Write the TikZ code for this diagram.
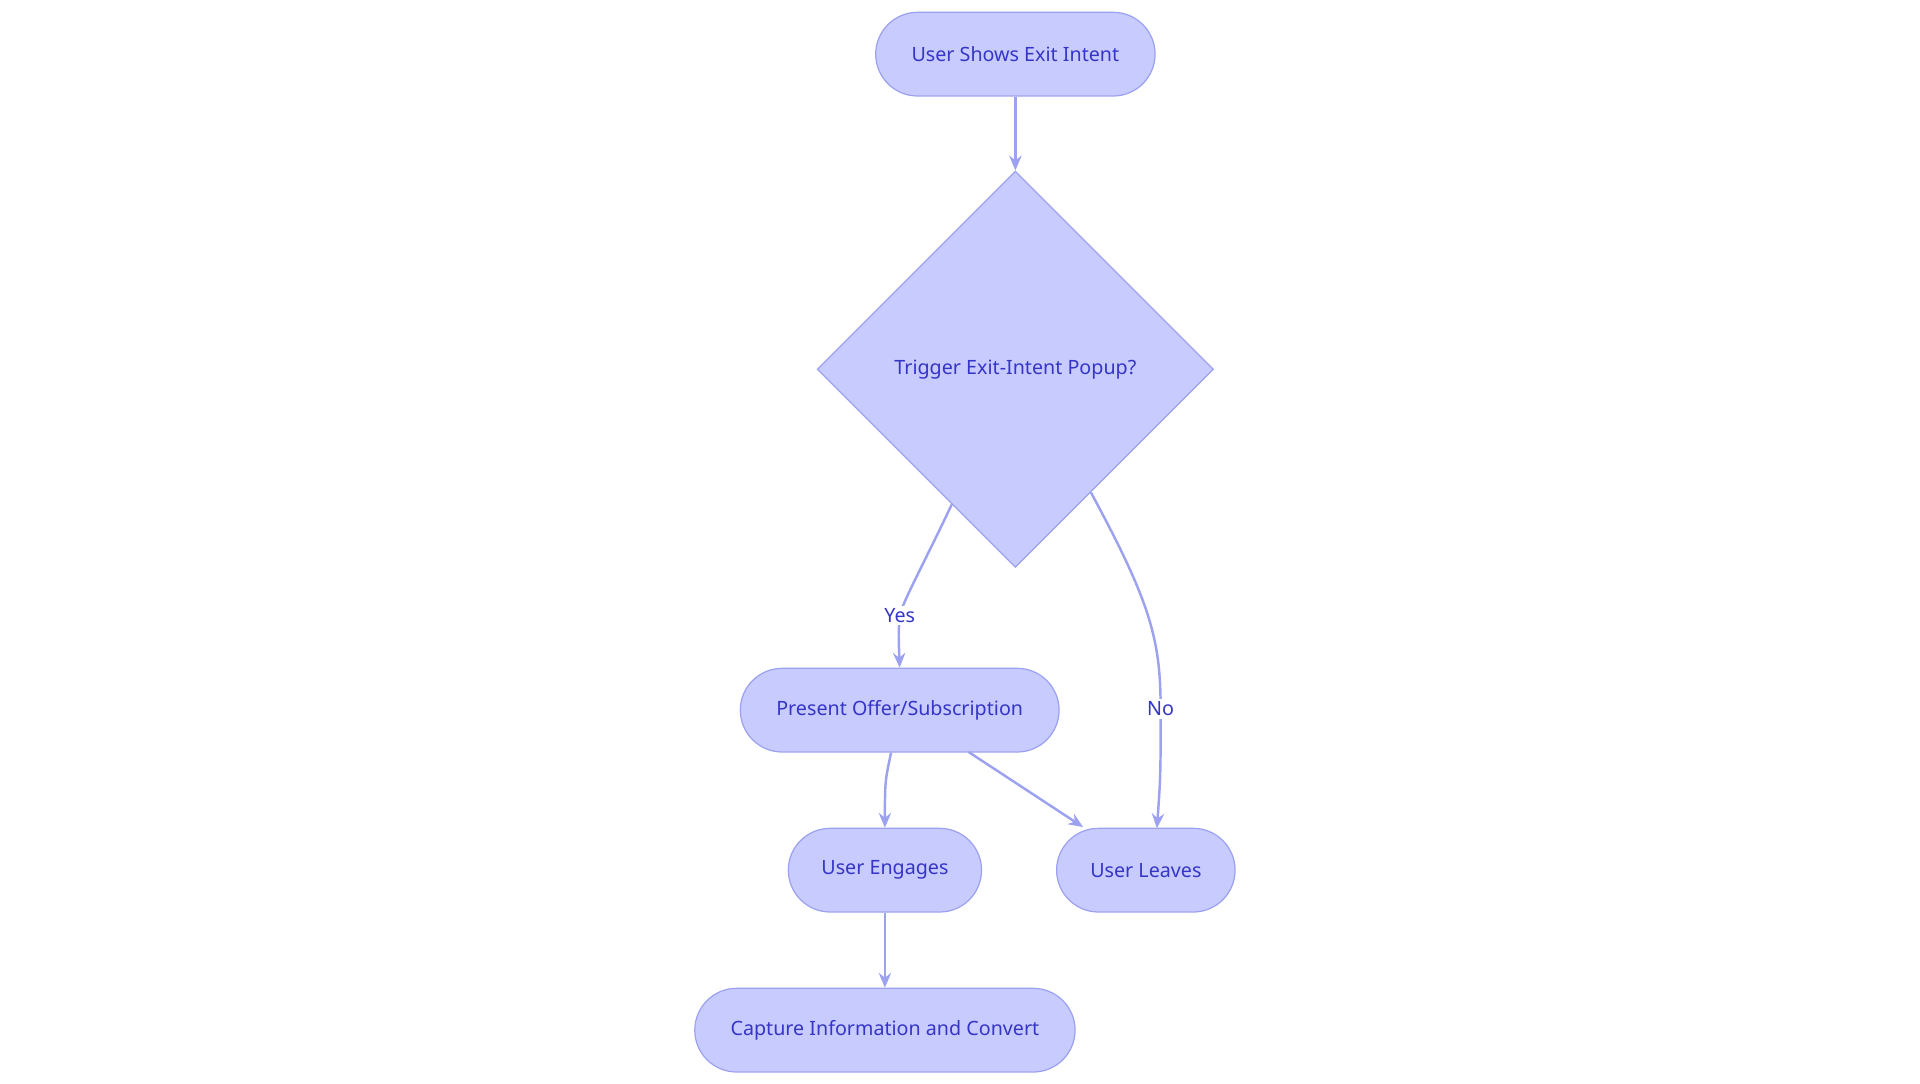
\documentclass[tikz,border=0pt]{standalone}
\usepackage{fontspec}
\setmainfont{Noto Sans}
\usetikzlibrary{shapes.geometric,arrows.meta,calc,positioning}
\definecolor{boxfill}{HTML}{C8CBFD}
\definecolor{boxline}{HTML}{9DA2F0}
\definecolor{boxtext}{HTML}{3535C8}
\tikzstyle{pill}=[draw=boxline, fill=boxfill, text=boxtext, line width=1pt, rounded corners=34pt, minimum height=68pt, inner sep=0pt, font=\fontsize{16}{19}\selectfont]
\tikzstyle{dec}=[diamond, draw=boxline, fill=boxfill, text=boxtext, line width=1pt, minimum size=322pt, aspect=1, inner sep=0pt, font=\fontsize{16}{19}\selectfont]
\tikzstyle{l1}=[draw=boxline, line width=2pt, -{Stealth[length=12pt,width=10pt]}]
\tikzstyle{lab}=[fill=white, text=boxtext, inner sep=2pt, font=\fontsize{16}{19}\selectfont]

\begin{document}
\begin{tikzpicture}[x=1pt, y=-1pt]
    \useasboundingbox (0,0) rectangle (1560,880);
    \node[pill, minimum width=227pt] at (825,44) (start) {User Shows Exit Intent};
    \node[dec] at (825,300) (trig) {Trigger Exit-Intent Popup?};
    \node[pill, minimum width=259pt] at (731,577) (offer) {Present Offer/Subscription};
    \node[pill, minimum width=157pt] at (719,707) (eng) {User Engages};
    \node[pill, minimum width=145pt] at (931,707) (leave) {User Leaves};
    \node[pill, minimum width=309pt] at (719,837) (capt) {Capture Information and Convert};

    \draw[l1] (start) -- (trig);
    \draw[l1] ($(trig.west)!0.68!(trig.south)$) .. controls (752,455) and (733,490) .. (731,500)
        node[lab] {Yes} .. controls (730,515) .. (offer.north);
    \draw[l1] ($(trig.south)!0.38!(trig.east)$) .. controls (935,490) and (943,520) .. (943,576)
        node[lab] {No} .. controls (943,630) .. (940,673);
    \draw[l1] (offer.south) ++(-7,0) .. controls (719,635) .. (eng.north);
    \draw[l1] (787,611) -- (880,672);
    \draw[l1] (eng) -- (capt);
\end{tikzpicture}
\end{document}
